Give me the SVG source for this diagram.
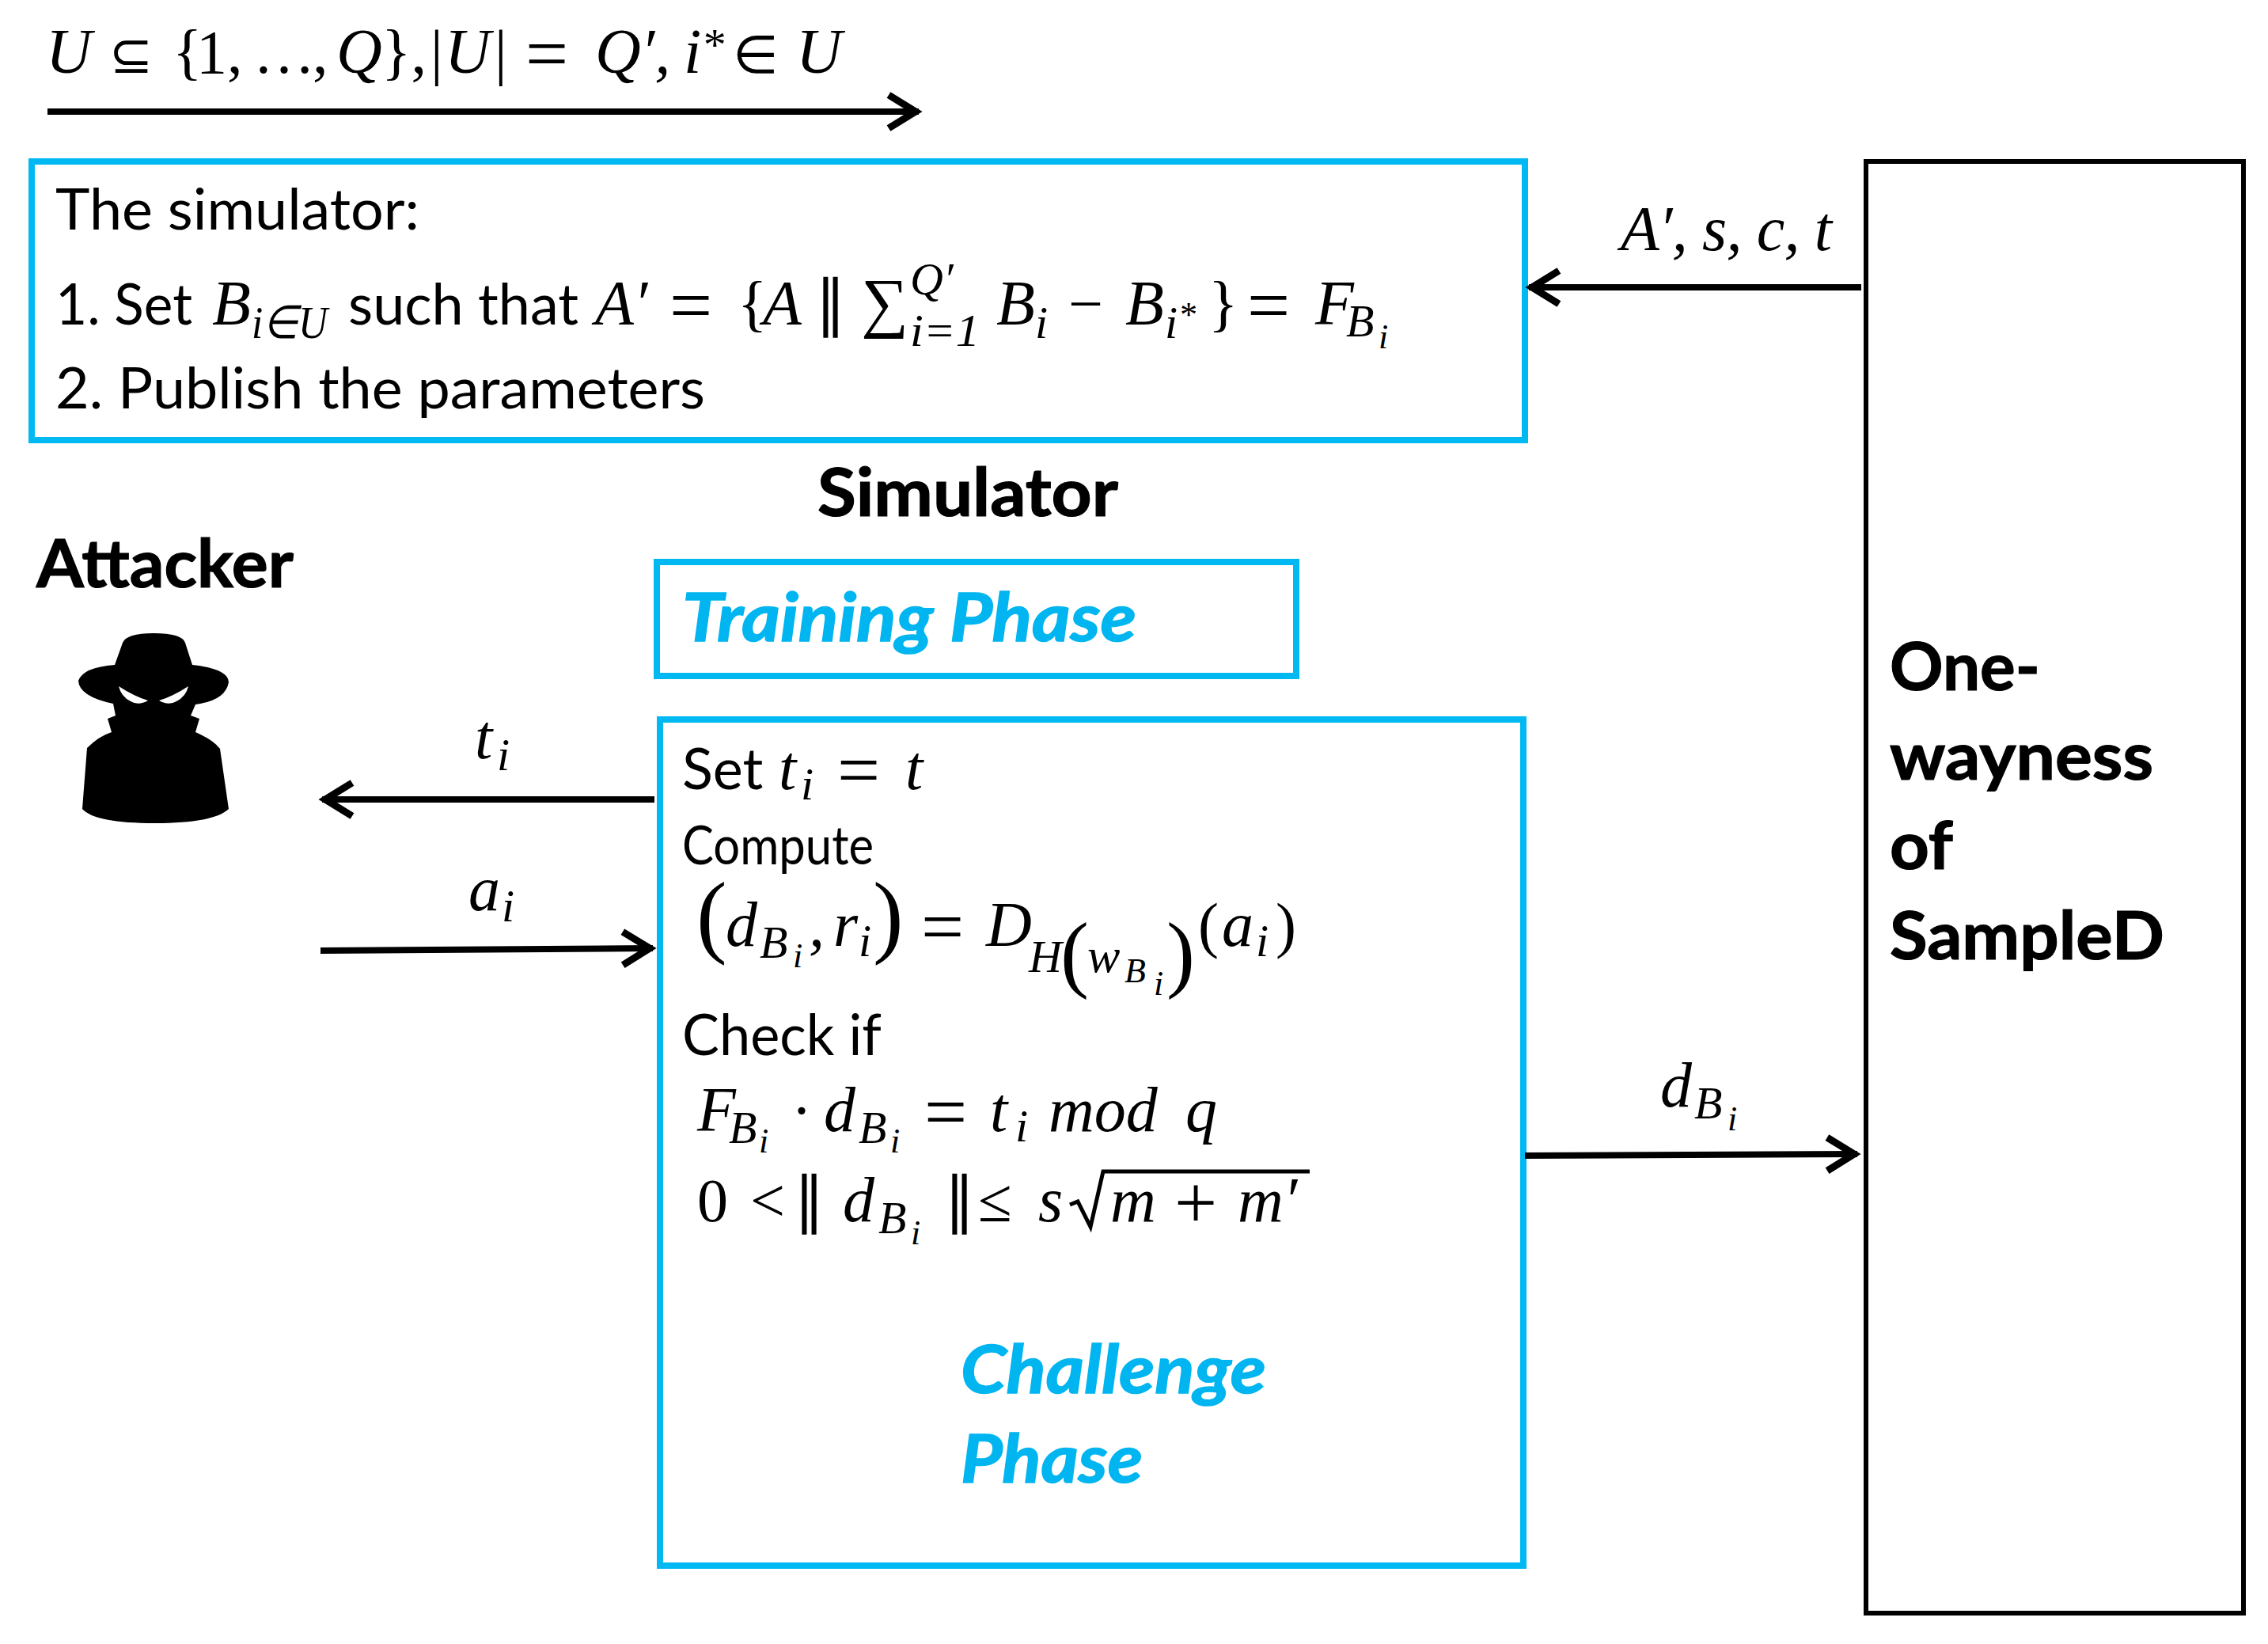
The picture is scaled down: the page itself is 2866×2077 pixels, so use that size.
<svg xmlns="http://www.w3.org/2000/svg" width="2866" height="2077" viewBox="0 0 2866 2077">
<style>
text{fill:#000;white-space:pre}
.t{font-family:"Lato","Liberation Sans",sans-serif;font-size:72px}
.b{font-family:"Lato","Liberation Sans",sans-serif;font-size:84px;font-weight:700;stroke:#000;stroke-width:1.2px}
.c{font-family:"Lato","Liberation Sans",sans-serif;font-size:84px;font-weight:700;font-style:italic;fill:#00b5f0;stroke:#00b5f0;stroke-width:1.5px}
.m{font-family:"Liberation Serif",serif;font-size:80px;font-style:italic}
.r{font-family:"Liberation Serif",serif;font-size:78px}
.eq{font-family:"Liberation Serif",serif;font-size:96px}
.s{font-family:"Liberation Serif",serif;font-size:58px;font-style:italic}
.u{font-family:"Liberation Serif",serif;font-size:44px;font-style:italic}
.sy{font-family:"DejaVu Sans",sans-serif;font-size:66px}
.box{fill:#fff;stroke:#00b9f2;stroke-width:8}
.blk{fill:#fff;stroke:#000;stroke-width:6}
.ln{fill:none;stroke:#000;stroke-width:8}
</style>
<defs>
<marker id="h" markerUnits="userSpaceOnUse" markerWidth="50" markerHeight="60" refX="44" refY="25" orient="auto" overflow="visible">
<path d="M6 4 L40 25 L6 46" fill="none" stroke="#000" stroke-width="9"/>
</marker>
</defs>
<rect width="2866" height="2077" fill="#fff"/>

<g id="params-label">
<text class="m" x="58" y="92">U</text><text class="sy" x="138" y="92">⊆</text><text class="r" x="218" y="92">{</text><text class="r" x="248" y="92">1,</text><text class="r" x="320" y="92">…</text><text class="r" x="395" y="92">,</text><text class="m" x="425" y="92">Q</text><text class="r" x="482" y="92">},</text><text class="r" x="544" y="92">|</text><text class="m" x="562" y="92">U</text><text class="r" x="625" y="92">|</text><text class="eq" x="664" y="100">=</text><text class="m" x="752" y="92">Q′,</text><text class="m" x="864" y="92">i</text><text class="s" x="886" y="76">*</text><text class="sy" x="926" y="92">∈</text><text class="m" x="1006" y="92">U</text>
</g>

<g id="simulator-box">
<rect class="box" x="40" y="204" width="1887" height="352"/>
<text class="t" x="70" y="290" textLength="460" lengthAdjust="spacingAndGlyphs">The simulator:</text>
<text class="t" x="70" y="410" textLength="173" lengthAdjust="spacingAndGlyphs">1. Set</text>
<text class="m" x="268" y="410">B</text><text class="s" x="318" y="427" textLength="96" lengthAdjust="spacingAndGlyphs">i∈U</text>
<text class="t" x="440" y="410" textLength="291" lengthAdjust="spacingAndGlyphs">such that</text>
<text class="m" x="752" y="410">A′</text><text class="eq" x="846" y="418">=</text><text class="r" x="932" y="410">{</text><text class="m" x="964" y="410">A</text><text class="r" x="1030" y="410">∥</text>
<text class="r" x="1088" y="410" style="font-size:84px">∑</text><text class="s" x="1150" y="372">Q′</text><text class="s" x="1150" y="437" textLength="88" lengthAdjust="spacingAndGlyphs">i=1</text>
<text class="m" x="1259" y="410">B</text><text class="s" x="1308" y="427">i</text><text class="r" x="1350" y="410">−</text><text class="m" x="1422" y="410">B</text><text class="s" x="1472" y="427">i</text><text class="u" x="1489" y="412">*</text><text class="r" x="1527" y="410">}</text><text class="eq" x="1576" y="418">=</text><text class="m" x="1662" y="410">F</text><text class="s" x="1701" y="425">B</text><text class="u" x="1742" y="440">i</text>
<text class="t" x="70" y="516" textLength="821" lengthAdjust="spacingAndGlyphs">2. Publish the parameters</text>
</g>

<g id="simulator-label"><text class="b" x="1033" y="652" textLength="380" lengthAdjust="spacingAndGlyphs">Simulator</text></g>
<g id="attacker">
<text class="b" x="46" y="742" textLength="325" lengthAdjust="spacingAndGlyphs">Attacker</text>
<path d="M155 812 Q160 800 194 800 Q230 800 234 812 L243 840 Q289 845 289 862 Q285 885 247 890 L241 904 L252 908 L247 925 Q270 935 278 946 L289 1022 Q270 1040 196 1040 Q120 1040 104 1022 L110 945 Q125 930 141 925 L136 908 L146 904 L143 889 Q100 880 99 860 Q105 843 145 840 Z" fill="#000"/>
<path d="M150 867 Q170 880 187 885 Q175 892 165 886 Q153 880 150 867Z M238 867 Q218 880 201 885 Q213 892 223 886 Q235 880 238 867Z" fill="#fff"/>
</g>

<g id="training-phase">
<rect class="box" x="830" y="710" width="808" height="144"/>
<text class="c" x="862" y="810" textLength="574" lengthAdjust="spacingAndGlyphs">Training Phase</text>
</g>

<g id="challenge-phase">
<rect class="box" x="834" y="909" width="1091" height="1069"/>
<text class="t" x="862" y="997">Set</text><text class="m" x="984" y="997">t</text><text class="s" x="1012" y="1010">i</text><text class="eq" x="1058" y="1005">=</text><text class="m" x="1144" y="997">t</text>
<text class="t" x="862" y="1092" style="font-size:68px" textLength="242" lengthAdjust="spacingAndGlyphs">Compute</text>
<text class="r" x="880" y="1195" style="font-size:116px">(</text><text class="m" x="917" y="1195">d</text><text class="s" x="960" y="1210">B</text><text class="u" x="1002" y="1222">i</text><text class="m" x="1022" y="1195">,</text><text class="m" x="1053" y="1195">r</text><text class="s" x="1085" y="1208">i</text><text class="r" x="1103" y="1195" style="font-size:116px">)</text><text class="eq" x="1164" y="1203">=</text><text class="m" x="1246" y="1195">D</text><text class="s" x="1300" y="1228">H</text><text class="r" x="1340" y="1240" style="font-size:108px">(</text><text class="s" x="1374" y="1228" style="font-size:62px">w</text><text class="u" x="1421" y="1241">B</text><text class="u" x="1458" y="1257">i</text><text class="r" x="1474" y="1240" style="font-size:108px">)</text><text class="r" x="1514" y="1195">(</text><text class="m" x="1544" y="1195">a</text><text class="s" x="1587" y="1208">i</text><text class="r" x="1612" y="1195">)</text>
<text class="t" x="862" y="1333" textLength="252" lengthAdjust="spacingAndGlyphs">Check if</text>
<text class="m" x="881" y="1429">F</text><text class="s" x="921" y="1444">B</text><text class="u" x="959" y="1456">i</text><text class="r" x="1000" y="1429">·</text><text class="m" x="1041" y="1429">d</text><text class="s" x="1085" y="1444">B</text><text class="u" x="1125" y="1456">i</text><text class="eq" x="1168" y="1437">=</text><text class="m" x="1251" y="1429">t</text><text class="s" x="1283" y="1442">i</text><text class="m" x="1325" y="1429">mod</text><text class="m" x="1498" y="1429">q</text>
<text class="r" x="881" y="1543">0</text><text class="r" x="948" y="1543">&lt;</text><text class="r" x="1003" y="1543">∥</text><text class="m" x="1065" y="1543">d</text><text class="s" x="1110" y="1558">B</text><text class="u" x="1151" y="1572">i</text><text class="r" x="1193" y="1543">∥</text><text class="r" x="1236" y="1543">≤</text><text class="m" x="1312" y="1543">s</text>
<path class="ln" style="stroke-width:5" d="M1352 1522 L1362 1518 L1378 1550 L1394 1480 L1655 1480"/>
<text class="m" x="1403" y="1543">m</text><text class="eq" x="1484" y="1551">+</text><text class="m" x="1564" y="1543">m′</text>
<text class="c" x="1214" y="1760" textLength="386" lengthAdjust="spacingAndGlyphs">Challenge</text>
<text class="c" x="1214" y="1873" textLength="230" lengthAdjust="spacingAndGlyphs">Phase</text>
</g>

<g id="one-wayness">
<rect class="blk" x="2358" y="204" width="477" height="1834"/>
<text class="b" x="2388" y="872" textLength="190" lengthAdjust="spacingAndGlyphs">One-</text>
<text class="b" x="2388" y="985" textLength="333" lengthAdjust="spacingAndGlyphs">wayness</text>
<text class="b" x="2388" y="1098" textLength="80" lengthAdjust="spacingAndGlyphs">of</text>
<text class="b" x="2388" y="1212" textLength="347" lengthAdjust="spacingAndGlyphs">SampleD</text>
</g>

<g id="connectors">
<path class="ln" marker-end="url(#h)" d="M60 141 L1161 141"/>
<path class="ln" marker-end="url(#h)" d="M2352 363 L1932 363"/>
<path class="ln" marker-end="url(#h)" d="M827 1010 L407 1010"/>
<path class="ln" marker-end="url(#h)" d="M405 1201 L825 1198"/>
<path class="ln" marker-end="url(#h)" d="M1927 1460 L2347 1458"/>
</g>

<g id="connector-labels">
<text class="m" x="2048" y="316" textLength="267">A′, s, c, t</text>
<text class="m" x="600" y="958">t</text><text class="s" x="628" y="973">i</text>
<text class="m" x="592" y="1150">a</text><text class="s" x="634" y="1164">i</text>
<text class="m" x="2098" y="1398">d</text><text class="s" x="2141" y="1413">B</text><text class="u" x="2183" y="1428">i</text>
</g>
</svg>
